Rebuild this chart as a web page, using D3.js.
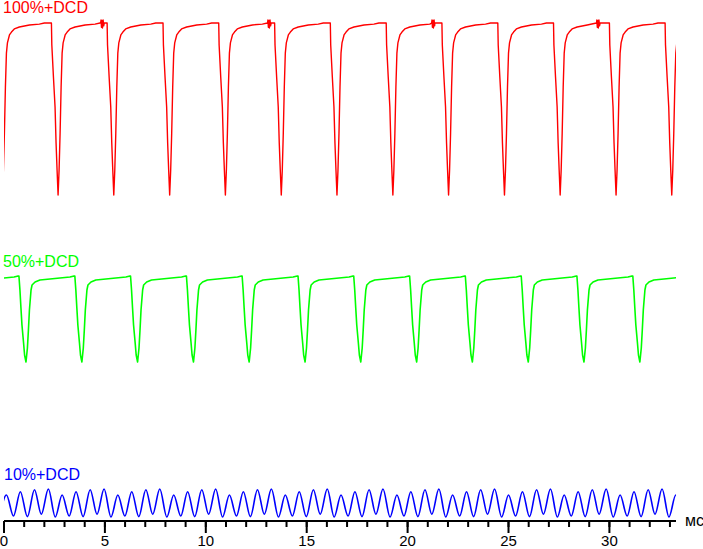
<!DOCTYPE html>
<html>
<head>
<meta charset="utf-8">
<script src="https://cdn.jsdelivr.net/npm/d3@7"></script>
<style>
  html, body { margin: 0; padding: 0; background: #fff; }
  svg { display: block; }
</style>
</head>
<body>
<svg id="chart"></svg>
<script>
// Times are in ms, levels are relative brightness (%) within each trace band
const xMax = 33.3;
const majorTicks = [0, 5, 10, 15, 20, 25, 30];
const minorTicks = d3.range(0, 34);
const unitLabel = 'мс';

const seriesNames = ['100%+DCD', '50%+DCD', '10%+DCD'];

// Red trace: one cycle, relative to each minimum
const redMinTimes = [-0.08, 2.68, 5.44, 8.21, 10.97, 13.74, 16.50, 19.27, 22.03, 24.80, 27.56, 30.33, 33.09];
const redShape = [
  [-0.33, 99.4], [-0.31, 86.7], [-0.23, 68.2], [-0.15, 50.9], [-0.10, 30], [-0.05, 14.5],
  [0, 0], [0.05, 14.5], [0.10, 35.8], [0.15, 62.4], [0.20, 82], [0.25, 87.9],
  [0.35, 92.5], [0.45, 94.2], [0.59, 96], [0.84, 97.1], [1.34, 98.3], [1.83, 98.8], [2.08, 99.4]
];
// small ringing spikes on the plateau
const redGlitchTimes = [4.91, 13.18, 21.31, 29.48];
const redGlitch = [
  [-0.12, 99.4], [-0.10, 101.2], [-0.08, 97], [-0.05, 100.8], [-0.03, 96.5],
  [0, 101.2], [0.03, 97.8], [0.06, 99.4]
];

// Green trace
const greenMinTimes = [-1.68, 1.09, 3.86, 6.62, 9.39, 12.15, 14.92, 17.68, 20.45, 23.21, 25.98, 28.74, 31.51];
const greenShape = [
  [-0.35, 100], [-0.30, 83.7], [-0.25, 62.8], [-0.20, 43], [-0.12, 22.1], [-0.07, 8.1],
  [0, 0], [0.07, 16.3], [0.12, 37.2], [0.17, 60.5], [0.25, 83.7], [0.30, 89.5],
  [0.45, 93], [0.69, 95.3], [1.19, 96.5], [1.68, 97.7], [2.18, 98.8], [2.38, 100]
];

// Blue trace: peaks and troughs over one red cycle (4 oscillations)
const blueShape = [
  [-0.14, 0], [0.20, 78.6], [0.55, 3.6], [0.89, 90.4], [1.24, 1.2],
  [1.59, 97.5], [1.93, 9.8], [2.28, 100]
];

const width = 703;
const height = 549;

const svg = d3.select('#chart')
  .attr('width', width)
  .attr('height', height);

const x = d3.scaleLinear().domain([0, xMax]).range([4, 676]);

const yRed = d3.scaleLinear().domain([0, 100]).range([195, 22]);
const yGreen = d3.scaleLinear().domain([0, 100]).range([362, 276]);
const yBlue = d3.scaleLinear().domain([0, 100]).range([517, 489]);

// Lay a shape on each cycle time
const buildTrace = (times, shape) => {
  let pts = [];
  times.forEach(t0 => {
    shape.forEach(d => pts.push([t0 + d[0], d[1]]));
  });
  return pts;
};

let redData = buildTrace(redMinTimes, redShape)
  .concat(buildTrace(redGlitchTimes, redGlitch))
  .sort((a, b) => a[0] - b[0]);
let greenData = buildTrace(greenMinTimes, greenShape);
let blueData = buildTrace(redMinTimes, blueShape);

svg.append('defs')
  .append('clipPath')
  .attr('id', 'plot-clip')
  .append('rect')
  .attr('x', x(0))
  .attr('y', 0)
  .attr('width', x(xMax) - x(0))
  .attr('height', height);

const plot = svg.append('g')
  .attr('clip-path', 'url(#plot-clip)');

const traces = [
  { data: redData, y: yRed, color: '#ff0000', curve: d3.curveLinear, w: 1.4 },
  { data: greenData, y: yGreen, color: '#00ff00', curve: d3.curveLinear, w: 1.6 },
  { data: blueData, y: yBlue, color: '#0000ff', curve: d3.curveMonotoneX, w: 1.6 }
];

traces.forEach(tr => {
  const line = d3.line()
    .x(d => x(d[0]))
    .y(d => tr.y(d[1]))
    .curve(tr.curve);

  plot.append('path')
    .datum(tr.data)
    .attr('fill', 'none')
    .attr('stroke', tr.color)
    .attr('stroke-width', tr.w)
    .attr('stroke-linejoin', 'round')
    .attr('d', line);
});

// Trace titles
const labelPos = [[3, 13], [3, 267], [4, 480]];
svg.selectAll('text.series-label')
  .data(seriesNames)
  .join('text')
  .attr('class', 'series-label')
  .attr('x', (d, i) => labelPos[i][0])
  .attr('y', (d, i) => labelPos[i][1])
  .attr('fill', (d, i) => traces[i].color)
  .attr('font-family', 'Liberation Sans, Arial, sans-serif')
  .attr('font-size', 16)
  .text(d => d);

// Time axis
const axisY = 521;

const minorAxis = svg.append('g')
  .attr('transform', `translate(0, ${axisY})`)
  .call(d3.axisBottom(x).tickValues(minorTicks).tickSize(6).tickFormat('').offset(0));
minorAxis.select('.domain').remove();

const majorAxis = svg.append('g')
  .attr('transform', `translate(0, ${axisY})`)
  .call(d3.axisBottom(x).tickValues(majorTicks).tickSize(12).tickSizeOuter(0).tickPadding(2).offset(0));

svg.selectAll('.tick line, .domain')
  .attr('stroke', '#000')
  .attr('stroke-width', 2);

majorAxis.selectAll('text')
  .attr('fill', '#000')
  .attr('font-family', 'Liberation Sans, Arial, sans-serif')
  .attr('font-size', 15);

svg.append('text')
  .attr('x', 685)
  .attr('y', 526)
  .attr('fill', '#000')
  .attr('font-family', 'Liberation Sans, Arial, sans-serif')
  .attr('font-size', 16)
  .text(unitLabel);
</script>
</body>
</html>
